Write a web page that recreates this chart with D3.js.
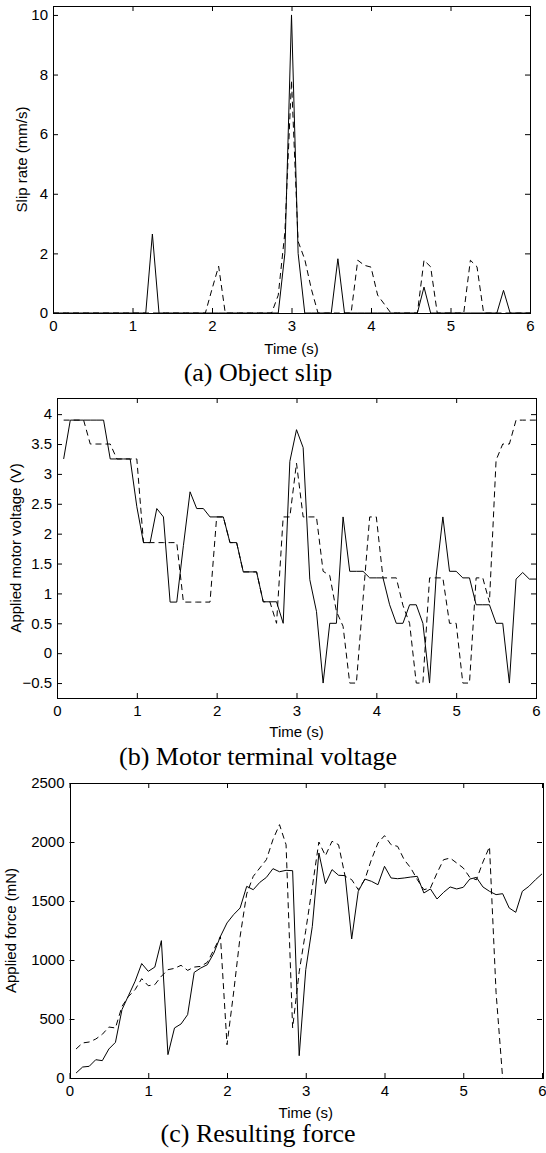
<!DOCTYPE html>
<html>
<head>
<meta charset="utf-8">
<script src="https://cdn.jsdelivr.net/npm/d3@7"></script>
<style>
  html, body { margin: 0; padding: 0; background: #fff; }
  svg text { fill: #000; }
</style>
</head>
<body>
<svg id="fig" width="546" height="1153"></svg>
<script>
/// Data ///
// sample period of the recordings (s)
const dt = 1 / 12;

// (a) slip rate, samples from t = 0
const slipSolid = [0,0,0,0,0,0,0,0,0,0,0,0,0,0,0, 2.65,
  0,0,0,0,0,0,0,0,0,0,0,0,0,0,0,0,0,0,0, 2.0, 10.0, 2.0,
  0,0,0,0,0, 1.82, 0,0,0,0,0,0,0,0,0,0,0,0, 0.87,
  0,0,0,0,0,0,0,0,0,0,0, 0.76, 0,0,0,0];
const slipDashed = [0,0,0,0,0,0,0,0,0,0,0,0,0,0,0,0,0,0,0,0,0,0,0,0, 0.8, 1.57,
  0,0,0,0,0,0,0,0, 0.6, 2.7, 7.8, 2.4, 1.8, 0.8,
  0,0,0,0,0,0, 1.77, 1.6, 1.54, 0.6, 0.3,
  0,0,0,0,0, 1.77, 1.55, 0,0,0,0,0, 1.77, 1.55, 0,0,0,0,0,0,0,0];

// (b) motor voltage, samples from t = 1/12
const voltSolid = [3.25, 3.9, 3.9, 3.9, 3.9, 3.9, 3.9, 3.25, 3.25, 3.25, 3.25, 2.45,
  1.85, 1.85, 2.42, 2.28, 0.855, 0.855, 1.8, 2.7, 2.42, 2.42, 2.28, 2.28,
  2.28, 1.85, 1.85, 1.36, 1.36, 1.36, 0.86, 0.86, 0.86, 0.5, 3.21, 3.74,
  3.44, 1.23, 0.7, -0.5, 0.5, 0.5, 2.28, 1.37, 1.37, 1.37, 1.26, 1.26,
  1.26, 0.81, 0.5, 0.5, 0.81, 0.81, 0.5, -0.5, 1.3, 2.28, 1.37, 1.37,
  1.26, 1.26, 0.81, 0.81, 0.81, 0.5, 0.5, -0.5, 1.24, 1.35, 1.24, 1.24];
const voltDashed = [3.9, 3.9, 3.9, 3.9, 3.5, 3.5, 3.5, 3.5, 3.25, 3.25, 3.25, 3.25,
  1.85, 1.85, 1.85, 1.85, 1.85, 1.85, 0.855, 0.855, 0.855, 0.855, 0.855, 2.28,
  2.28, 1.85, 1.85, 1.36, 1.36, 1.36, 0.86, 0.86, 0.5, 2.28, 2.28, 3.18,
  2.28, 2.28, 2.28, 1.37, 1.3, 0.7, 0.45, -0.5, -0.5, 0.9, 2.28, 2.28,
  1.26, 1.26, 1.26, 0.8, 0.5, -0.5, -0.5, 1.26, 1.26, 1.26, 0.5, 0.5,
  -0.5, -0.5, 1.26, 1.26, 0.85, 3.23, 3.5, 3.5, 3.9, 3.9, 3.9, 3.9];

// (c) applied force, samples from t = 1/12
const forceSolid = [42, 93, 99, 155, 147, 246, 302, 580, 700, 820, 970, 904,
  940, 1164, 198, 424, 458, 537, 895, 932, 960, 1059, 1200, 1314,
  1384, 1441, 1624, 1596, 1658, 1700, 1774, 1748, 1760, 1757, 189, 918,
  1285, 1907, 1647, 1766, 1718, 1715, 1178, 1582, 1686, 1667, 1638, 1794,
  1695, 1689, 1695, 1703, 1709, 1568, 1602, 1517, 1573, 1619, 1602, 1616,
  1686, 1700, 1619, 1582, 1554, 1562, 1441, 1404, 1582, 1624, 1680, 1730];
const forceDashed = [246, 297, 305, 330, 370, 432, 424, 607, 692, 749, 842, 782,
  791, 862, 918, 929, 955, 912, 940, 946, 980, 1088, 1200, 282,
  720, 1200, 1560, 1709, 1780, 1850, 2020, 2147, 1977, 424, 900, 1250,
  1620, 2000, 1884, 2006, 1977, 1709, 1681, 1596, 1681, 1850, 1991, 2054,
  1977, 1963, 1850, 1780, 1681, 1596, 1610, 1737, 1850, 1864, 1822, 1780,
  1700, 1680, 1830, 1960, 725, 0];

// ticks
const timeTicks = [0, 1, 2, 3, 4, 5, 6];
const slipTicks = [0, 2, 4, 6, 8, 10];
const voltTicks = [-0.5, 0, 0.5, 1, 1.5, 2, 2.5, 3, 3.5, 4];
const forceTicks = [0, 500, 1000, 1500, 2000, 2500];

// labels
const yLabels = ["Slip rate (mm/s)", "Applied motor voltage (V)", "Applied force (mN)"];
const xLabel = "Time (s)";
const captions = ["(a) Object slip", "(b) Motor terminal voltage", "(c) Resulting force"];

/// Drawing ///
const svg = d3.select("#fig");
const sans = "'Liberation Sans', Arial, Helvetica, sans-serif";
const serif = "'Liberation Serif', 'Times New Roman', serif";
const fmt = d3.format("~g");

function toPoints(values, start) {
    return values.map(function(v, i) { return [(i + start) * dt, v]; });
}

function drawPanel(p, id) {
    const x = d3.scaleLinear().domain([0, 6]).range([p.left, p.right]);
    const y = d3.scaleLinear().domain(p.yDomain).range([p.bottom, p.top]);
    const g = svg.append("g");

    // clip
    g.append("clipPath").attr("id", "clip" + id)
        .append("rect")
        .attr("x", p.left - 1).attr("y", p.top)
        .attr("width", p.right - p.left + 2).attr("height", p.bottom - p.top + 1);

    // axes (ticks inward on all four sides)
    const tk = 5;
    g.append("g").attr("transform", "translate(0," + p.bottom + ")")
        .call(d3.axisBottom(x).tickValues(timeTicks).tickFormat(fmt)
            .tickSizeInner(-tk).tickSizeOuter(0).tickPadding(p.xPad));
    g.append("g").attr("transform", "translate(0," + p.top + ")")
        .call(d3.axisTop(x).tickValues(timeTicks).tickFormat("")
            .tickSizeInner(-tk).tickSizeOuter(0));
    g.append("g").attr("transform", "translate(" + p.left + ",0)")
        .call(d3.axisLeft(y).tickValues(p.yTicks).tickFormat(fmt)
            .tickSizeInner(-tk).tickSizeOuter(0).tickPadding(5));
    g.append("g").attr("transform", "translate(" + p.right + ",0)")
        .call(d3.axisRight(y).tickValues(p.yTicks).tickFormat("")
            .tickSizeInner(-tk).tickSizeOuter(0));
    g.selectAll(".domain").remove();
    g.selectAll(".tick line").attr("stroke", "#000");
    g.selectAll(".tick text")
        .attr("font-family", sans).attr("font-size", p.fs).attr("fill", "#000");

    // frame, snapped to the pixel grid
    g.append("rect")
        .attr("x", Math.round(p.left) + 0.5).attr("y", Math.round(p.top) + 0.5)
        .attr("width", Math.round(p.right - p.left)).attr("height", Math.round(p.bottom - p.top))
        .attr("fill", "none").attr("stroke", "#000").attr("stroke-width", 1);

    // series
    const line = d3.line().x(function(d) { return x(d[0]); }).y(function(d) { return y(d[1]); });
    const lines = g.append("g").attr("clip-path", "url(#clip" + id + ")");
    lines.append("path").datum(p.dashed)
        .attr("d", line).attr("fill", "none")
        .attr("stroke", "#000").attr("stroke-width", 1)
        .attr("stroke-dasharray", "6,4");
    lines.append("path").datum(p.solid)
        .attr("d", line).attr("fill", "none")
        .attr("stroke", "#000").attr("stroke-width", 1);

    // labels
    g.append("text")
        .attr("x", (p.left + p.right) / 2).attr("y", p.timeY)
        .attr("text-anchor", "middle").attr("dominant-baseline", "central")
        .attr("font-family", sans).attr("font-size", p.fs)
        .text(xLabel);
    g.append("text")
        .attr("transform", "translate(" + p.ylabX + "," + ((p.top + p.bottom) / 2) + ") rotate(-90)")
        .attr("text-anchor", "middle").attr("dominant-baseline", "central")
        .attr("font-family", sans).attr("font-size", p.fs)
        .text(p.ylabel);
    g.append("text")
        .attr("x", 258).attr("y", p.capY)
        .attr("text-anchor", "middle")
        .attr("font-family", serif).attr("font-size", 26)
        .text(p.caption);
}

drawPanel({
    left: 53, right: 530, top: 6, bottom: 313,
    yDomain: [0, 10.3], yTicks: slipTicks,
    solid: toPoints(slipSolid, 0), dashed: toPoints(slipDashed, 0),
    ylabel: yLabels[0], caption: captions[0],
    ylabX: 21, timeY: 348, capY: 381, xPad: 7, fs: 15
}, "a");

drawPanel({
    left: 57, right: 536, top: 398, bottom: 698,
    yDomain: [-0.75, 4.27], yTicks: voltTicks,
    solid: toPoints(voltSolid, 1), dashed: toPoints(voltDashed, 1),
    ylabel: yLabels[1], caption: captions[1],
    ylabX: 15, timeY: 731, capY: 765, xPad: 7, fs: 15
}, "b");

drawPanel({
    left: 69.5, right: 542, top: 783, bottom: 1078,
    yDomain: [0, 2500], yTicks: forceTicks,
    solid: toPoints(forceSolid, 1), dashed: toPoints(forceDashed, 1),
    ylabel: yLabels[2], caption: captions[2],
    ylabX: 10.5, timeY: 1112, capY: 1142, xPad: 7, fs: 15
}, "c");
</script>
</body>
</html>
